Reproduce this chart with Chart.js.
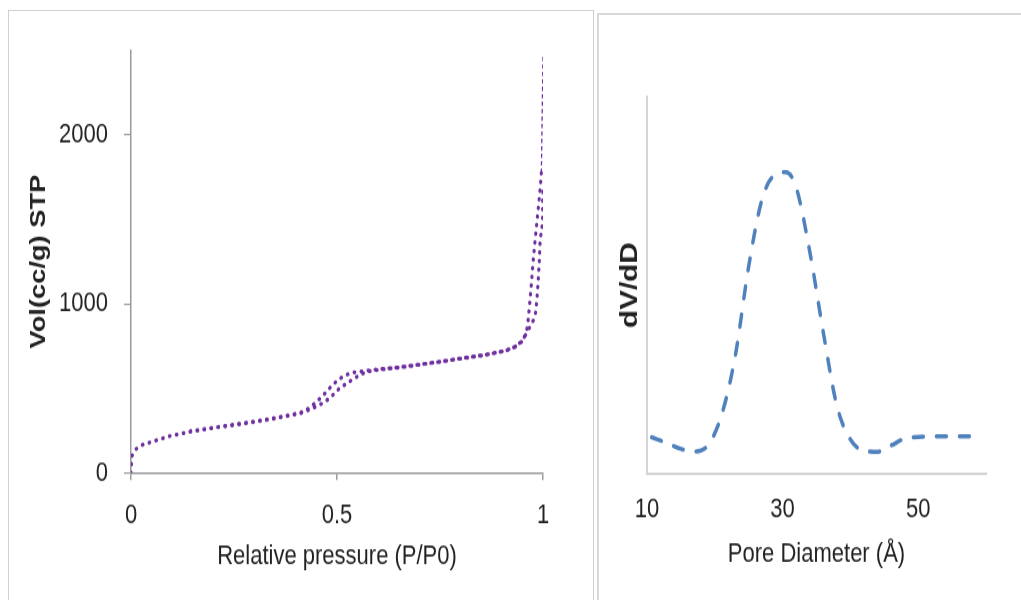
<!DOCTYPE html>
<html>
<head>
<meta charset="utf-8">
<script src="https://cdn.jsdelivr.net/npm/chart.js@4.4.0/dist/chart.umd.min.js"></script>
<style>
  body { margin: 0; background: #fff; width: 1021px; height: 600px; overflow: hidden; position: relative; }
  .panel { position: absolute; box-sizing: border-box; }
  #panelLeft { left: 8px; top: 10px; width: 586px; height: 620px; border: 1.5px solid #cfcfcf; }
  #panelRight { left: 597px; top: 13px; width: 440px; height: 620px; border: 2px solid #d9d9d9; }
  /* the original picture is stretched vertically, so the charts are drawn flatter and scaled up */
  .box { position: absolute; transform-origin: 0 0; transform: scaleY(1.24); }
  #boxLeft { left: 9px; top: 11px; width: 582px; height: 475px; }
  #boxRight { left: 599px; top: 15px; width: 422px; height: 472px; }
</style>
</head>
<body>
<div class="panel" id="panelLeft"></div>
<div class="panel" id="panelRight"></div>
<div class="box" id="boxLeft"><canvas id="isotherm"></canvas></div>
<div class="box" id="boxRight"><canvas id="poreDist"></canvas></div>
<script>
// isotherm - adsorption branch (P/P0, volume)
const adsP = [0, 0.001, 0.002, 0.012, 0.027, 0.046, 0.095, 0.143, 0.192, 0.265, 0.337, 0.41, 0.434, 0.45, 0.466, 0.483, 0.495, 0.507, 0.524, 0.539, 0.556, 0.572, 0.6, 0.65, 0.7, 0.75, 0.8, 0.85, 0.9, 0.93, 0.95, 0.96, 0.97, 0.981, 0.985, 0.988, 0.991, 0.993, 0.997, 0.999, 0.999, 1.0];
const adsV = [0, 50, 100, 142, 166, 181, 219, 244, 264, 289, 317, 352, 375, 394, 414, 444, 473, 503, 530, 556, 580, 599, 610, 624, 640, 658, 676, 694, 718, 742, 780, 827, 870, 925, 1020, 1122, 1250, 1379, 1440, 1481, 1586, 1694];
// desorption branch
const desP = [1.0, 0.996, 0.993, 0.989, 0.985, 0.981, 0.976, 0.972, 0.968, 0.964, 0.96, 0.952, 0.936, 0.912, 0.863, 0.8, 0.75, 0.7, 0.64, 0.588, 0.539, 0.52, 0.502, 0.49, 0.478, 0.465, 0.45, 0.434, 0.41, 0.337, 0.265, 0.2, 0.14];
const desV = [2460, 1773, 1675, 1576, 1477, 1379, 1250, 1122, 1010, 905, 835, 790, 750, 725, 700, 678, 658, 642, 622, 610, 594, 578, 550, 522, 491, 455, 421, 385, 355, 320, 292, 268, 245];
const volTicks = [0, 1000, 2000];
const pressTicks = [0, 0.5, 1];

// pore size distribution
const poreD = [10.7, 13, 15, 17, 19, 21, 23, 25, 27, 29, 30.5, 32, 34, 36, 38, 40, 42, 44, 46, 48, 50, 54, 58.4];
const dVdD = [0.096, 0.08, 0.065, 0.058, 0.075, 0.155, 0.31, 0.55, 0.73, 0.795, 0.80, 0.76, 0.59, 0.375, 0.18, 0.09, 0.06, 0.057, 0.074, 0.092, 0.097, 0.098, 0.098];
const poreTicks = [10, 30, 50];

const FONT = "'Liberation Sans', Arial, sans-serif";
const TEXT = '#222222';
const purple = '#7030A0';
const DOTS = [0.5, 6.5];

const toXY = (xs, ys) => xs.map((x, i) => ({x: x, y: ys[i]}));

new Chart(document.getElementById('isotherm'), {
    type: 'line',
    data: {
        datasets: [{
            label: 'Adsorption',
            data: toXY(adsP, adsV),
            borderColor: purple,
            borderWidth: 3.2,
            borderDash: DOTS,
            borderCapStyle: 'round',
            pointRadius: 0,
            tension: 0
        }, {
            label: 'Desorption',
            data: toXY(desP, desV),
            borderColor: purple,
            borderWidth: 3.2,
            borderDash: DOTS,
            borderCapStyle: 'round',
            pointRadius: 0,
            tension: 0,
            segment: {
                // the last stretch up to saturation shows as a thin dashed line
                borderWidth: ctx => ctx.p0DataIndex === 0 ? 1.3 : 3.2,
                borderDash: ctx => ctx.p0DataIndex === 0 ? [3.5, 2.5] : DOTS,
                borderCapStyle: ctx => ctx.p0DataIndex === 0 ? 'butt' : 'round'
            }
        }]
    },
    options: {
        responsive: true,
        maintainAspectRatio: false,
        animation: false,
        layout: { padding: { top: 31.5, right: 48, left: 0, bottom: 0 } },
        plugins: { legend: { display: false }, tooltip: { enabled: false } },
        scales: {
            x: {
                type: 'linear',
                min: 0, max: 1,
                afterBuildTicks: s => { s.ticks = pressTicks.map(v => ({value: v})); },
                afterFit: s => { s.height = 102.4; },
                border: { display: true, color: '#9a9a9a', width: 1.5 },
                grid: { drawOnChartArea: false, drawTicks: true, tickLength: 5.6, color: '#9a9a9a', lineWidth: 1.5 },
                ticks: { color: TEXT, font: { family: FONT, size: 22 }, padding: 16, maxRotation: 0, callback: v => String(v) },
                title: { display: true, text: 'Relative pressure (P/P0)', color: TEXT, font: { family: FONT, size: 22 }, padding: { top: 0, bottom: 21.5 } }
            },
            y: {
                min: 0, max: 2500,
                afterBuildTicks: s => { s.ticks = volTicks.map(v => ({value: v})); },
                afterFit: s => { s.width = 122; },
                border: { display: true, color: '#9a9a9a', width: 1.5 },
                grid: { drawOnChartArea: false, drawTicks: true, tickLength: 7, color: '#9a9a9a', lineWidth: 1.2 },
                ticks: { color: TEXT, font: { family: FONT, size: 22 }, padding: 16, callback: v => String(v) },
                title: { display: true, text: 'Vol(cc/g) STP', color: TEXT, font: { family: FONT, size: 22, weight: 'bold' }, padding: { top: 17, bottom: 0 } }
            }
        }
    }
});

new Chart(document.getElementById('poreDist'), {
    type: 'line',
    data: {
        datasets: [{
            label: 'dV/dD',
            data: toXY(poreD, dVdD),
            borderColor: '#4F81BD',
            borderWidth: 3.5,
            borderDash: [10, 13],
            borderCapStyle: 'round',
            pointRadius: 0,
            tension: 0.4,
            cubicInterpolationMode: 'monotone'
        }]
    },
    options: {
        responsive: true,
        maintainAspectRatio: false,
        animation: false,
        layout: { padding: { top: 66.1, right: 35, left: 0, bottom: 0 } },
        plugins: { legend: { display: false }, tooltip: { enabled: false } },
        scales: {
            x: {
                type: 'linear',
                min: 10, max: 60,
                afterBuildTicks: s => { s.ticks = poreTicks.map(v => ({value: v})); },
                afterFit: s => { s.height = 102.4; },
                border: { display: true, color: '#d4d4d4', width: 2 },
                grid: { display: false, drawTicks: false },
                ticks: { color: TEXT, font: { family: FONT, size: 22 }, padding: 16, maxRotation: 0, callback: v => String(v) },
                title: { display: true, text: 'Pore Diameter (Å)', color: TEXT, font: { family: FONT, size: 22 }, padding: { top: 0, bottom: 24 } }
            },
            y: {
                min: 0, max: 1,
                afterFit: s => { s.width = 48; },
                border: { display: true, color: '#d4d4d4', width: 2 },
                grid: { display: false, drawTicks: false },
                ticks: { display: false },
                title: { display: true, text: 'dV/dD', color: TEXT, font: { family: FONT, size: 24, weight: 'bold' }, padding: { top: 17, bottom: 0 } }
            }
        }
    }
});
</script>
</body>
</html>
